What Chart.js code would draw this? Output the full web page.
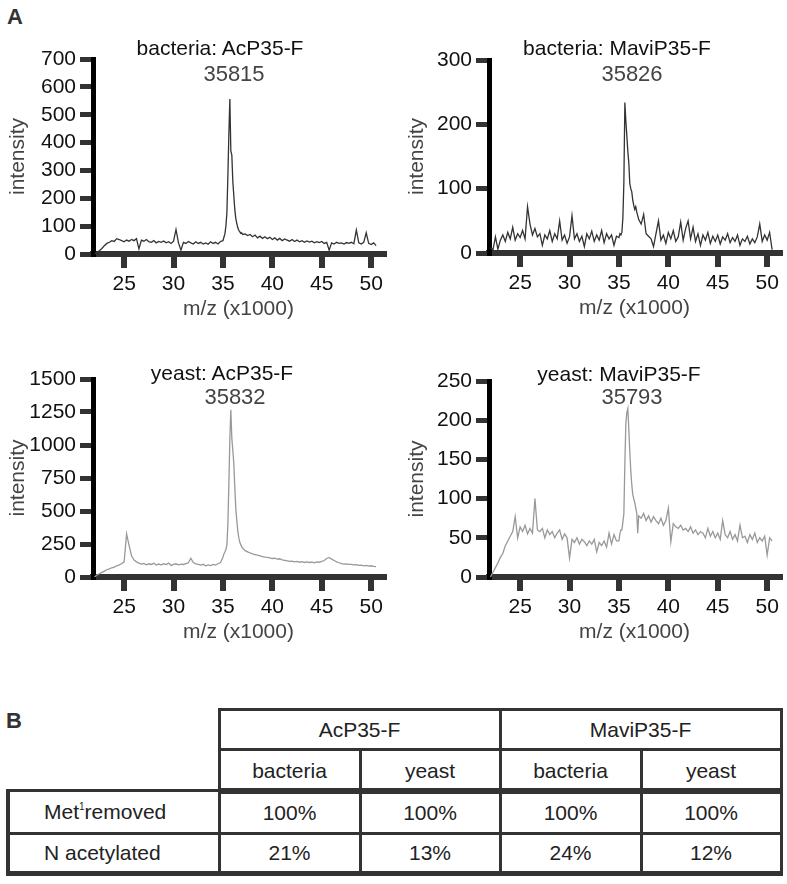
<!DOCTYPE html>
<html>
<head>
<meta charset="utf-8">
<script src="https://cdn.jsdelivr.net/npm/chart.js@4.4.1/dist/chart.umd.min.js"></script>
<style>
	body { margin: 0; background: #fff; font-family: "Liberation Sans", Arial, sans-serif; }
	#page { position: relative; width: 787px; height: 884px; overflow: hidden; }
	canvas { position: absolute; }
	.lbl { position: absolute; white-space: nowrap; line-height: 1; font-size: 21px; color: #111; transform: translateX(-50%); z-index: 2; }
	.peak { font-size: 22px; color: #444; }
	.panel { position: absolute; font-size: 22px; font-weight: bold; line-height: 1; color: #333; }
	#tbl { position: absolute; left: 6px; top: 708px; width: 773px; border-collapse: collapse; table-layout: fixed; font-size: 21px; color: #222; }
	#tbl td { text-align: center; padding: 0; border: 3px solid #333; }
	#tbl td.blank { border: none; }
	#tbl td.row { text-align: left; padding-left: 34px; }
	#tbl tr.hosts td { border-bottom-width: 6px; padding-top: 4px; }
	#tbl tr.body td:first-child { border-left-width: 4px; }
	#tbl tr.last td { border-bottom-width: 5px; }
	sup { font-size: 10px; vertical-align: 9px; line-height: 0; color: #222; }
</style>
</head>
<body>
<div id="page">
	<div class="panel" style="left:7px; top:6px">A</div>

	<canvas id="ac-bacteria" width="390" height="300" style="left:0; top:30px"></canvas>
	<canvas id="mavi-bacteria" width="397" height="300" style="left:390px; top:30px"></canvas>
	<canvas id="ac-yeast" width="390" height="300" style="left:0; top:350px"></canvas>
	<canvas id="mavi-yeast" width="397" height="300" style="left:390px; top:350px"></canvas>

	<div class="lbl" style="left:220px; top:37px">bacteria: AcP35-F</div>
	<div class="lbl peak" style="left:234px; top:63px">35815</div>
	<div class="lbl" style="left:617px; top:37px">bacteria: MaviP35-F</div>
	<div class="lbl peak" style="left:632px; top:63px">35826</div>
	<div class="lbl" style="left:222px; top:362px">yeast: AcP35-F</div>
	<div class="lbl peak" style="left:235px; top:386px">35832</div>
	<div class="lbl" style="left:619px; top:363px">yeast: MaviP35-F</div>
	<div class="lbl peak" style="left:632px; top:386px">35793</div>

	<div class="panel" style="left:6px; top:710px">B</div>
	<table id="tbl"></table>
</div>

<script>
// m/z values (x1000), shared by all four spectra
const mz = [
	22.0, 22.25, 22.5, 22.75, 23.0, 23.25, 23.5, 23.75, 24.0, 24.25, 24.5, 24.75,
	25.0, 25.25, 25.5, 25.75, 26.0, 26.25, 26.5, 26.75, 27.0, 27.25, 27.5, 27.75,
	28.0, 28.25, 28.5, 28.75, 29.0, 29.25, 29.5, 29.75, 30.0, 30.25, 30.5, 30.75,
	31.0, 31.25, 31.5, 31.75, 32.0, 32.25, 32.5, 32.75, 33.0, 33.25, 33.5, 33.75,
	34.0, 34.25, 34.5, 34.75,
	35.0, 35.1, 35.2, 35.3, 35.4, 35.5, 35.6, 35.7, 35.8, 35.9,
	36.0, 36.1, 36.2, 36.3, 36.4, 36.5, 36.6, 36.7, 36.8, 36.9, 37.0,
	37.25, 37.5, 37.75, 38.0, 38.25, 38.5, 38.75, 39.0, 39.25, 39.5, 39.75,
	40.0, 40.25, 40.5, 40.75, 41.0, 41.25, 41.5, 41.75, 42.0, 42.25, 42.5, 42.75,
	43.0, 43.25, 43.5, 43.75, 44.0, 44.25, 44.5, 44.75, 45.0, 45.25, 45.5, 45.75,
	46.0, 46.25, 46.5, 46.75, 47.0, 47.25, 47.5, 47.75, 48.0, 48.25, 48.5, 48.75,
	49.0, 49.25, 49.5, 49.75, 50.0, 50.25, 50.5,
]

// intensities
const acBacteria = [
	0, 5, 12, 20, 30, 38, 42, 48, 45, 55, 52, 48,
	44, 50, 46, 52, 48, 55, 18, 50, 46, 52, 44, 42,
	48, 40, 45, 42, 47, 40, 44, 38, 46, 88, 40, 14,
	42, 38, 45, 40, 36, 44, 38, 42, 36, 40, 35, 44,
	38, 42, 36, 45,
	48, 60, 72, 100, 147, 280, 430, 556, 370, 355,
	260, 210, 160, 128, 110, 95, 85, 80, 74, 76, 70,
	72, 66, 70, 62, 68, 58, 64, 56, 62, 55, 60,
	52, 58, 50, 56, 48, 54, 50, 46, 52, 45, 50, 44,
	48, 42, 47, 43, 46, 40, 44, 41, 45, 38, 42, 14,
	40, 36, 42, 38, 40, 36, 41, 38, 42, 37, 86, 40,
	36, 42, 76, 38, 34, 40, 30,
]
const maviBacteria = [
	8, 5, 25, 6, 20, 28, 18, 32, 22, 40, 20, 30,
	24, 35, 22, 72, 45, 28, 38, 25, 30, 12, 28, 22,
	35, 18, 30, 22, 50, 20, 28, 15, 25, 58, 22, 30,
	18, 26, 10, 30, 22, 34, 18, 28, 20, 35, 16, 30,
	22, 28, 12, 26,
	24, 30, 28, 32, 55, 110, 234, 205, 182, 158,
	140, 108, 100, 95, 82, 74, 68, 72, 64, 58, 52,
	45, 60, 30, 26, 22, 10, 30, 50, 20, 28, 15,
	32, 22, 35, 18, 25, 48, 20, 38, 50, 22, 40, 18,
	30, 12, 28, 20, 32, 15, 26, 18, 28, 14, 25, 20,
	30, 16, 24, 18, 28, 12, 22, 18, 26, 14, 22, 16,
	25, 45, 18, 28, 20, 32, 5,
]
const acYeast = [
	0, 15, 25, 35, 45, 55, 62, 70, 75, 85, 92, 100,
	115, 326, 240, 160, 128, 115, 105, 98, 102, 92, 100, 95,
	104, 90, 98, 92, 100, 94, 105, 88, 96, 100, 92, 98,
	95, 102, 108, 142, 110, 100, 95, 90, 96, 85, 92, 86,
	95, 90, 100, 110,
	150, 175, 190, 210, 240, 400, 700, 1050, 1266, 1050,
	960, 860, 680, 520, 432, 350, 300, 265, 245, 230, 218,
	200, 190, 182, 175, 170, 165, 160, 155, 150, 148, 145,
	140, 142, 135, 138, 130, 126, 122, 118, 120, 115, 118, 112,
	116, 110, 114, 110, 112, 108, 114, 112, 118, 125, 140, 148,
	135, 125, 115, 108, 102, 98, 100, 95, 96, 92, 94, 88,
	90, 85, 88, 82, 85, 80, 78,
]
const maviYeast = [
	0, 6, 12, 18, 25, 30, 40, 46, 52, 58, 77, 50,
	64, 58, 66, 55, 62, 56, 100, 60, 58, 62, 50, 60,
	54, 58, 50, 56, 60, 48, 55, 50, 24, 48, 44, 50,
	42, 48, 45, 40, 46, 42, 48, 32, 44, 40, 46, 38,
	56, 42, 54, 46,
	46, 55, 60, 60, 70, 81, 145, 196, 210, 215,
	188, 160, 135, 118, 105, 100, 95, 88, 82, 56, 78,
	75, 81, 72, 78, 70, 77, 72, 68, 75, 66, 72,
	88, 45, 68, 64, 62, 66, 60, 62, 58, 64, 56, 60,
	54, 58, 56, 50, 62, 52, 58, 50, 56, 48, 72, 54,
	50, 58, 48, 54, 46, 66, 50, 52, 44, 54, 48, 56,
	44, 50, 46, 52, 28, 50, 46,
]

// table B
const constructs = ["AcP35-F", "MaviP35-F"]
const hosts = ["bacteria", "yeast"]
const metRemoved = ["100%", "100%", "100%", "100%"]
const nAcetylated = ["21%", "13%", "24%", "12%"]

const fontFamily = '"Liberation Sans", Arial, sans-serif'
Chart.defaults.font.family = fontFamily

const spectrum = (id, values, color, yMax, yStep, axisWidth, pad) => {
	new Chart(document.getElementById(id), {
		type: "line",
		data: {
			datasets: [
				{
					data: mz.map((x, i) => ({ x: x, y: values[i] })),
					borderColor: color,
					borderWidth: 1.3,
					pointRadius: 0,
					tension: 0,
				},
			],
		},
		options: {
			responsive: false,
			animation: false,
			devicePixelRatio: 1,
			layout: { padding: pad },
			plugins: {
				legend: { display: false },
				tooltip: { enabled: false },
			},
			scales: {
				x: {
					type: "linear",
					min: 21.85,
					max: 51.3,
					border: { display: true, color: "#333", width: 6 },
					grid: {
						display: true,
						drawOnChartArea: false,
						drawTicks: true,
						color: "#333",
						lineWidth: 6,
						tickLength: 14,
						tickWidth: 6,
						tickColor: "#333",
					},
					ticks: {
						stepSize: 5,
						includeBounds: false,
						padding: 4,
						color: "#111",
						maxRotation: 0,
						autoSkip: false,
						font: { size: 21 },
						callback: v => String(v),
					},
					title: { display: true, text: "m/z (x1000)", color: "#444", font: { size: 21 } },
					afterFit: s => {
						s.height = 72
						s.paddingLeft = 0
						s.paddingRight = 0
					},
				},
				y: {
					min: 0,
					max: yMax,
					border: { display: true, color: "#000", width: 5 },
					grid: {
						display: true,
						drawOnChartArea: false,
						drawTicks: true,
						color: "#333",
						lineWidth: 5,
						tickLength: 13,
						tickWidth: 5,
						tickColor: "#333",
					},
					ticks: {
						stepSize: yStep,
						padding: 4,
						color: "#111",
						autoSkip: false,
						font: { size: 21 },
						callback: v => String(v),
					},
					title: { display: true, text: "intensity", color: "#444", font: { size: 21 } },
					afterFit: s => {
						s.width = axisWidth
						s.paddingTop = 0
						s.paddingBottom = 0
					},
				},
			},
		},
	})
}

spectrum("ac-bacteria", acBacteria, "#333", 700, 100, 91, { top: 29, left: 2, right: 6, bottom: 4 })
spectrum("mavi-bacteria", maviBacteria, "#333", 300, 100, 88, { top: 30, left: 11, right: 7, bottom: 5 })
spectrum("ac-yeast", acYeast, "#999", 1500, 250, 91, { top: 29, left: 2, right: 6, bottom: 1 })
spectrum("mavi-yeast", maviYeast, "#999", 250, 50, 88, { top: 31, left: 11, right: 7, bottom: 1 })

// build table
const tbl = document.getElementById("tbl")
let html = '<colgroup><col style="width:211px"><col style="width:141px"><col style="width:140px"><col style="width:141px"><col style="width:140px"></colgroup>'
html += '<tr style="height:40px"><td class="blank"></td>'
constructs.forEach(c => (html += `<td colspan="2">${c}</td>`))
html += '</tr><tr class="hosts" style="height:41px"><td class="blank"></td>'
constructs.forEach(() => hosts.forEach(h => (html += `<td>${h}</td>`)))
html += '</tr><tr class="body" style="height:43px"><td class="row">Met<sup>1</sup>removed</td>'
metRemoved.forEach(v => (html += `<td>${v}</td>`))
html += '</tr><tr class="body last" style="height:40px"><td class="row">N acetylated</td>'
nAcetylated.forEach(v => (html += `<td>${v}</td>`))
html += "</tr>"
tbl.innerHTML = html
</script>
</body>
</html>
